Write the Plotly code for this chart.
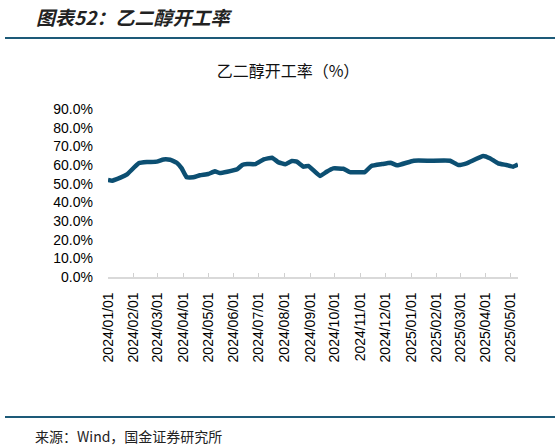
import plotly.graph_objects as go

dates = [
    "2024-01-01", "2024-01-06", "2024-01-16", "2024-01-24", "2024-02-07", "2024-02-17",
    "2024-02-29", "2024-03-08", "2024-03-16", "2024-03-24", "2024-03-30", "2024-04-05",
    "2024-04-13", "2024-04-21", "2024-05-01", "2024-05-09", "2024-05-15", "2024-05-24",
    "2024-06-05", "2024-06-11", "2024-06-17", "2024-06-27", "2024-07-07", "2024-07-17",
    "2024-07-25", "2024-08-02", "2024-08-10", "2024-08-16", "2024-08-24", "2024-08-30",
    "2024-09-13", "2024-09-21", "2024-09-29", "2024-10-11", "2024-10-19", "2024-11-06",
    "2024-11-14", "2024-11-27", "2024-12-07", "2024-12-15", "2025-01-04", "2025-01-24",
    "2025-02-17", "2025-02-27", "2025-03-09", "2025-03-29", "2025-04-06", "2025-04-16",
    "2025-04-26", "2025-05-04", "2025-05-10",
]
rates = [
    52.0, 51.6, 53.2, 55.0, 60.9, 61.6,
    61.8, 63.0, 62.8, 61.2, 58.2, 53.4,
    53.4, 54.5, 55.2, 56.6, 55.7, 56.4,
    57.7, 60.0, 60.5, 60.5, 63.0, 63.9,
    61.4, 60.4, 62.1, 61.8, 59.1, 59.5,
    54.1, 56.4, 58.2, 58.0, 56.2, 56.2,
    59.5, 60.5, 61.2, 59.8, 62.3, 62.3,
    62.3, 60.0, 60.9, 64.8, 63.6, 60.9,
    60.0, 59.1, 60.2,
]
tick_dates = [
    "2024-01-01", "2024-02-01", "2024-03-01", "2024-04-01", "2024-05-01", "2024-06-01",
    "2024-07-01", "2024-08-01", "2024-09-01", "2024-10-01", "2024-11-01", "2024-12-01",
    "2025-01-01", "2025-02-01", "2025-03-01", "2025-04-01", "2025-05-01",
]
tick_labels = [d.replace("-", "/") for d in tick_dates]
y_ticks = [0, 10, 20, 30, 40, 50, 60, 70, 80, 90]

W, H = 559, 448
L, R, T, B = 108, 41, 109, 171
PW, PH = W - L - R, H - T - B


def px_x(p):
    return (p - L) / PW


def px_y(p):
    return (H - B - p) / PH


fig = go.Figure()
fig.add_trace(go.Scatter(
    x=dates, y=rates, mode="lines",
    line=dict(color="#0c4f72", width=4.5, shape="spline", smoothing=0.3),
    hoverinfo="skip", showlegend=False,
))

fig.update_layout(
    width=W, height=H,
    margin=dict(l=L, r=R, t=T, b=B),
    paper_bgcolor="white", plot_bgcolor="white",
    font=dict(family="Liberation Sans, Arial, sans-serif", size=14, color="#000000"),
    title=dict(
        text="乙二醇开工率（%）",
        font=dict(family="Noto Sans CJK SC", size=16, color="#111111"),
        x=px_x(288), xanchor="center", xref="paper",
        y=1 - 71 / H, yanchor="middle", yref="container",
    ),
    xaxis=dict(
        type="date",
        range=["2024-01-01", "2025-05-10"],
        tickvals=tick_dates, ticktext=tick_labels,
        tickangle=-90,
        ticks="inside", ticklen=4, tickcolor="#d0d0d0", tickwidth=1,
        showline=True, linecolor="#d9d9d9", linewidth=1.5,
        showgrid=False, zeroline=False,
        ticklabelstandoff=8,
        tickfont=dict(size=14),
    ),
    yaxis=dict(
        range=[0, 90],
        tickvals=y_ticks,
        ticktext=[f"{v:.1f}%" for v in y_ticks],
        showgrid=False, zeroline=False, showline=False,
        ticks="", ticklabelstandoff=14,
        tickfont=dict(size=14),
    ),
    shapes=[
        dict(type="line", xref="paper", yref="paper",
             x0=px_x(5), x1=px_x(555), y0=px_y(38), y1=px_y(38),
             line=dict(color="#1d5a78", width=2)),
        dict(type="line", xref="paper", yref="paper",
             x0=px_x(5), x1=px_x(555), y0=px_y(417), y1=px_y(417),
             line=dict(color="#1d5a78", width=2)),
    ],
    annotations=[
        dict(text="<b><i>图表52：乙二醇开工率</i></b>",
             xref="paper", yref="paper",
             x=px_x(34), xanchor="left",
             y=px_y(17), yanchor="middle",
             showarrow=False,
             font=dict(family="Noto Sans CJK SC", size=19, color="#222222")),
        dict(text="来源：Wind，国金证券研究所",
             xref="paper", yref="paper",
             x=px_x(33), xanchor="left",
             y=px_y(436), yanchor="middle",
             showarrow=False,
             font=dict(family="Noto Sans CJK SC", size=14, color="#222222")),
    ],
)

fig.write_html("out.html", config={"displayModeBar": False},
               post_script="document.body.style.margin='0';")
